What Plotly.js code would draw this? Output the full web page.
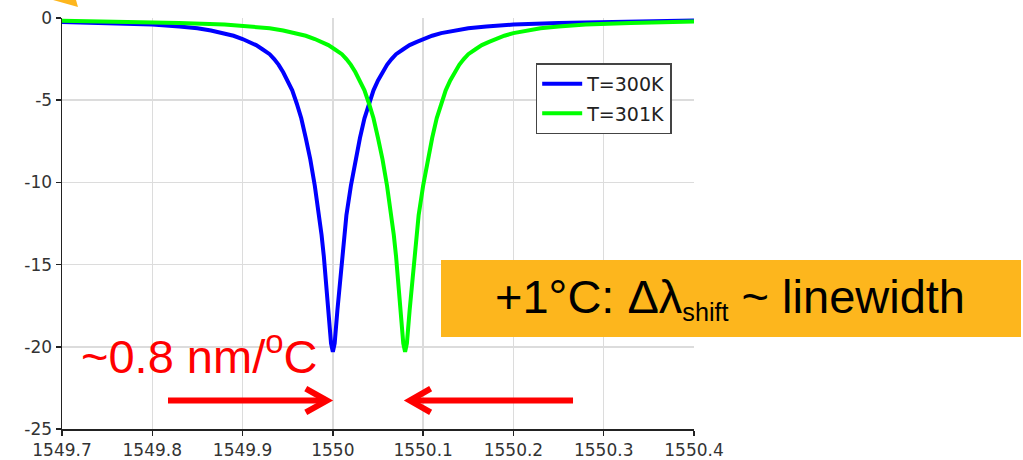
<!DOCTYPE html>
<html>
<head>
<meta charset="utf-8">
<script src="https://cdn.plot.ly/plotly-3.0.1.min.js"></script>
<style>html,body{margin:0;padding:0;background:#fff;}#chart{width:1023px;height:460px;}</style>
</head>
<body>
<div id="chart"></div>
<script>
// Wavelength (nm) and transmission (dB)
const wavelength300 = [1549.7, 1549.75, 1549.8, 1549.83, 1549.85, 1549.865, 1549.88, 1549.89, 1549.9, 1549.907, 1549.915, 1549.922, 1549.93, 1549.935, 1549.94, 1549.945, 1549.95, 1549.955, 1549.96, 1549.965, 1549.97, 1549.975, 1549.98, 1549.985, 1549.9875, 1549.99, 1549.9925, 1549.995, 1549.998, 1550.0, 1550.002, 1550.005, 1550.0075, 1550.01, 1550.0125, 1550.015, 1550.02, 1550.025, 1550.03, 1550.035, 1550.04, 1550.045, 1550.05, 1550.055, 1550.06, 1550.065, 1550.07, 1550.078, 1550.085, 1550.093, 1550.1, 1550.11, 1550.12, 1550.135, 1550.15, 1550.17, 1550.2, 1550.25, 1550.3, 1550.35, 1550.4];
const trans300 = [-0.24, -0.3, -0.4, -0.52, -0.62, -0.76, -0.92, -1.08, -1.28, -1.45, -1.65, -1.9, -2.2, -2.5, -2.85, -3.3, -3.8, -4.4, -5.2, -6.1, -7.3, -8.6, -10.2, -12.0, -13.2, -14.5, -16.2, -17.8, -19.8, -20.3, -19.8, -17.8, -16.2, -14.5, -13.2, -12.0, -10.2, -8.6, -7.3, -6.1, -5.2, -4.4, -3.8, -3.3, -2.85, -2.5, -2.2, -1.9, -1.65, -1.45, -1.28, -1.08, -0.92, -0.76, -0.62, -0.52, -0.4, -0.3, -0.24, -0.19, -0.15];

const wavelength301 = [1549.7, 1549.73, 1549.78, 1549.83, 1549.88, 1549.91, 1549.93, 1549.945, 1549.96, 1549.97, 1549.98, 1549.987, 1549.995, 1550.002, 1550.01, 1550.015, 1550.02, 1550.025, 1550.03, 1550.035, 1550.04, 1550.045, 1550.05, 1550.055, 1550.06, 1550.065, 1550.0675, 1550.07, 1550.0725, 1550.075, 1550.078, 1550.08, 1550.082, 1550.085, 1550.0875, 1550.09, 1550.0925, 1550.095, 1550.1, 1550.105, 1550.11, 1550.115, 1550.12, 1550.125, 1550.13, 1550.135, 1550.14, 1550.145, 1550.15, 1550.158, 1550.165, 1550.173, 1550.18, 1550.19, 1550.2, 1550.215, 1550.23, 1550.25, 1550.28, 1550.33, 1550.38, 1550.4];
const trans301 = [-0.16, -0.19, -0.24, -0.3, -0.4, -0.52, -0.62, -0.76, -0.92, -1.08, -1.28, -1.45, -1.65, -1.9, -2.2, -2.5, -2.85, -3.3, -3.8, -4.4, -5.2, -6.1, -7.3, -8.6, -10.2, -12.0, -13.2, -14.5, -16.2, -17.8, -19.8, -20.3, -19.8, -17.8, -16.2, -14.5, -13.2, -12.0, -10.2, -8.6, -7.3, -6.1, -5.2, -4.4, -3.8, -3.3, -2.85, -2.5, -2.2, -1.9, -1.65, -1.45, -1.28, -1.08, -0.92, -0.76, -0.62, -0.52, -0.4, -0.3, -0.24, -0.22];

const seriesNames = ["T=300K", "T=301K"];
const xTickVals = [1549.7, 1549.8, 1549.9, 1550, 1550.1, 1550.2, 1550.3, 1550.4];
const xTickText = ["1549.7", "1549.8", "1549.9", "1550", "1550.1", "1550.2", "1550.3", "1550.4"];
const yTickVals = [-25, -20, -15, -10, -5, 0];
const yTickText = ["-25", "-20", "-15", "-10", "-5", "0"];

const traces = [
  {x: wavelength300, y: trans300, name: seriesNames[0], type: 'scatter', mode: 'lines',
   line: {color: '#0000ff', width: 4}, legendgroup: 'a'},
  {x: wavelength301, y: trans301, name: seriesNames[1], type: 'scatter', mode: 'lines',
   line: {color: '#00ff00', width: 4}, legendgroup: 'b'}
];

const red = '#ff0000';
const orange = '#FDB61D';

const layout = {
  width: 1023, height: 460,
  margin: {l: 62, r: 329, t: 18, b: 31},
  paper_bgcolor: '#ffffff', plot_bgcolor: '#ffffff',
  showlegend: true,
  legend: {
    x: 0.7495, y: 0.8898, xanchor: 'left', yanchor: 'top',
    bgcolor: '#ffffff', bordercolor: '#444444', borderwidth: 1.5,
    font: {family: 'DejaVu Sans', size: 19, color: '#222'},
    traceorder: 'grouped', tracegroupgap: 2, itemwidth: 40
  },
  xaxis: {
    range: [1549.7, 1550.4], tickmode: 'array', tickvals: xTickVals, ticktext: xTickText,
    showgrid: true, gridcolor: '#dcdcdc', gridwidth: 1.5, zeroline: false,
    showline: true, linecolor: '#222', linewidth: 1.5,
    ticks: 'outside', ticklen: 5, tickcolor: '#222', tickwidth: 1.5,
    tickfont: {family: 'DejaVu Sans', size: 17, color: '#333'}
  },
  yaxis: {
    range: [-25, 0], tickmode: 'array', tickvals: yTickVals, ticktext: yTickText,
    showgrid: true, gridcolor: '#dcdcdc', gridwidth: 1.5, zeroline: false,
    showline: true, linecolor: '#222', linewidth: 1.5,
    ticks: 'outside', ticklen: 5, tickcolor: '#222', tickwidth: 1.5,
    tickfont: {family: 'DejaVu Sans', size: 17, color: '#333'}
  },
  shapes: [
    // orange callout box
    {type: 'rect', xref: 'paper', yref: 'paper', x0: 0.5997, x1: 1.5174, y0: 0.2238, y1: 0.4112,
     fillcolor: orange, line: {width: 0}, layer: 'above'},
    // orange arrow fragment top-left
    {type: 'path', xref: 'paper', yref: 'paper',
     path: 'M -0.0142,1.0438 L 0.0222,1.0438 L 0.0253,1.0268 Z',
     fillcolor: orange, line: {width: 0}, layer: 'above'},
    // right-pointing red arrow
    {type: 'path', xref: 'x', yref: 'y', path: 'M 1549.8174,-23.27 L 1549.992,-23.27',
     line: {color: red, width: 6}, layer: 'above'},
    {type: 'path', xref: 'x', yref: 'y', path: 'M 1549.9700,-22.55 L 1549.9935,-23.27 L 1549.9700,-23.99',
     line: {color: red, width: 6}, layer: 'above'},
    // left-pointing red arrow
    {type: 'path', xref: 'x', yref: 'y', path: 'M 1550.266,-23.27 L 1550.088,-23.27',
     line: {color: red, width: 6}, layer: 'above'},
    {type: 'path', xref: 'x', yref: 'y', path: 'M 1550.1083,-22.55 L 1550.0853,-23.27 L 1550.1083,-23.99',
     line: {color: red, width: 6}, layer: 'above'}
  ],
  annotations: [
    {xref: 'paper', yref: 'paper', x: 0.027, y: 0.186, xanchor: 'left', yanchor: 'middle',
     text: '~0.8 nm/<sup>o</sup>C', showarrow: false,
     font: {family: 'Liberation Sans, Arial, sans-serif', size: 47, color: red}},
    {xref: 'paper', yref: 'paper', x: 1.0562, y: 0.3187, xanchor: 'center', yanchor: 'middle',
     text: '+1°C: Δλ<span style="font-size:36px"><sub>shift</sub></span> ~ linewidth', showarrow: false,
     font: {family: 'Liberation Sans, Arial, sans-serif', size: 47, color: '#000'}}
  ]
};

Plotly.newPlot('chart', traces, layout, {displayModeBar: false, staticPlot: true});
</script>
</body>
</html>
